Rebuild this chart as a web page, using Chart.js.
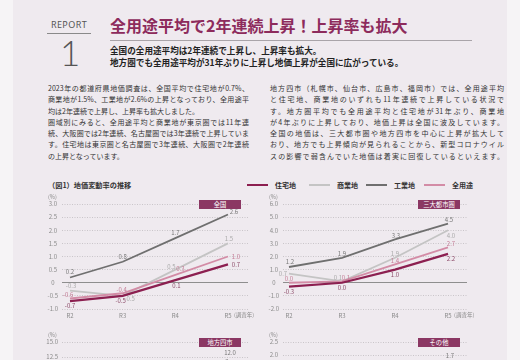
<!DOCTYPE html>
<html lang="ja">
<head>
<meta charset="utf-8">
<script src="https://cdn.jsdelivr.net/npm/chart.js@4.4.0/dist/chart.umd.min.js"></script>
<style>
  html, body { margin: 0; padding: 0; overflow: hidden; background: #f6f4f6; }
  #page { position: relative; width: 520px; height: 360px; overflow: hidden;
          font-family: "Noto Sans CJK JP", "Noto Sans", sans-serif; color: #333; }
  #panel { position: absolute; left: 13px; top: 0; width: 494px; height: 360px; background: #efeaef; }
  .abs { position: absolute; white-space: nowrap; }
  #report { left: 47px; top: 19px; width: 44px; font-family: "Noto Sans", sans-serif; font-size: 9px;
            letter-spacing: 0.4px; color: #555; text-align: center; line-height: 12px; }
  #reportRule { left: 47px; top: 33px; width: 44px; height: 0; border-top: 1px solid #8a8a8a; }
  #num { left: 60px; top: 32px; font-family: Lato, sans-serif; font-weight: 300; font-size: 35px;
         line-height: 40px; color: #555; }
  #title { left: 110px; top: 15px; font-size: 16px; font-weight: bold; color: #8d2b5c; line-height: 20px; }
  #titleRule { left: 110px; top: 40px; width: 362px; height: 0; border-top: 1px solid #a9a4a9; }
  #lead { left: 110px; top: 44px; font-size: 8.6px; font-weight: bold; color: #222; line-height: 12px; }
  .col { position: absolute; top: 83px; font-size: 7px; line-height: 11.3px; color: #333; }
  .col div { white-space: nowrap; }
  .col div.j { text-align: justify; text-align-last: justify; white-space: normal; }
  #colL { left: 48px; width: 201px; }
  #colR { left: 270px; width: 234px; }
  #figTitle { left: 48px; top: 180px; font-size: 7.2px; font-weight: bold; color: #333; line-height: 10px; }
  .legLine { position: absolute; top: 184px; height: 2px; }
  .legText { position: absolute; top: 180px; font-size: 7px; font-weight: bold; color: #333; line-height: 10px; }
  .pct { position: absolute; font-size: 5.5px; color: #888; line-height: 6px; }
  .badge { position: absolute; height: 9px; width: 42px; background: #8b3763; color: #fff;
           font-size: 6.3px; line-height: 9px; text-align: center; }
  canvas { position: absolute; }
</style>
</head>
<body>
<div id="page">
  <div id="panel"></div>
  <div class="abs" id="report">REPORT</div>
  <div class="abs" id="reportRule"></div>
  <div class="abs" id="num">1</div>
  <div class="abs" id="title">全用途平均で2年連続上昇！上昇率も拡大</div>
  <div class="abs" id="titleRule"></div>
  <div class="abs" id="lead">全国の全用途平均は2年連続で上昇し、上昇率も拡大。<br>地方圏でも全用途平均が31年ぶりに上昇し地価上昇が全国に広がっている。</div>

  <div class="col" id="colL">
    <div class="j">2023年の都道府県地価調査は、全国平均で住宅地が0.7%、</div>
    <div class="j">商業地が1.5%、工業地が2.6%の上昇となっており、全用途平</div>
    <div>均は2年連続で上昇し、上昇率も拡大しました。</div>
    <div class="j">圏域別にみると、全用途平均と商業地が東京圏では11年連</div>
    <div class="j">続、大阪圏では2年連続、名古屋圏では3年連続で上昇していま</div>
    <div class="j">す。住宅地は東京圏と名古屋圏で3年連続、大阪圏で2年連続</div>
    <div>の上昇となっています。</div>
  </div>
  <div class="col" id="colR">
    <div class="j">地方四市（札幌市、仙台市、広島市、福岡市）では、全用途平均</div>
    <div class="j">と住宅地、商業地のいずれも11年連続で上昇している状況で</div>
    <div class="j">す。地方圏平均でも全用途平均と住宅地が31年ぶり、商業地</div>
    <div class="j">が4年ぶりに上昇しており、地価上昇は全国に波及しています。</div>
    <div class="j">全国の地価は、三大都市圏や地方四市を中心に上昇が拡大して</div>
    <div class="j">おり、地方でも上昇傾向が見られることから、新型コロナウイル</div>
    <div class="j">スの影響で弱含んでいた地価は着実に回復しているといえます。</div>
  </div>

  <div class="abs" id="figTitle">（図1）地価変動率の推移</div>
  <div id="legend"></div>

  <canvas id="c1" width="222" height="125" style="left:40px;top:194px"></canvas>
  <canvas id="c2" width="222" height="125" style="left:261px;top:194px"></canvas>
  <canvas id="c3" width="222" height="125" style="left:40px;top:332px"></canvas>
  <canvas id="c4" width="222" height="125" style="left:261px;top:332px"></canvas>

  <div class="pct" style="left:48px;top:194px">(%)</div>
  <div class="pct" style="left:269px;top:194px">(%)</div>
  <div class="pct" style="left:48px;top:332px">(%)</div>
  <div class="pct" style="left:269px;top:332px">(%)</div>

  <div class="badge" style="left:199px;top:199.5px">全国</div>
  <div class="badge" style="left:418px;top:199.5px">三大都市圏</div>
  <div class="badge" style="left:199px;top:337.5px">地方四市</div>
  <div class="badge" style="left:418px;top:337.5px">その他</div>
</div>

<script>
// categories
const years = ['R2', 'R3', 'R4', 'R5'];
const seriesNames = ['住宅地', '全用途', '商業地', '工業地'];

// 全国
const zenkokuJutaku = [-0.7, -0.5, 0.1, 0.7];
const zenkokuZenyoto = [-0.6, -0.4, 0.3, 1.0];
const zenkokuShogyo = [-0.3, -0.5, 0.5, 1.5];
const zenkokuKogyo = [0.2, 0.8, 1.7, 2.6];

// 三大都市圏
const sandaiJutaku = [-0.3, 0.0, 1.0, 2.2];
const sandaiZenyoto = [0.0, 0.1, 1.4, 2.7];
const sandaiShogyo = [0.7, 0.1, 1.9, 4.0];
const sandaiKogyo = [1.2, 1.9, 3.3, 4.5];

// 地方四市
const yonshiJutaku = [3.6, 4.2, 6.6, 7.6];
const yonshiZenyoto = [4.1, 4.1, 6.7, 8.1];
const yonshiShogyo = [6.1, 3.6, 6.9, 9.0];
const yonshiKogyo = [5.5, 7.0, 9.7, 12.0];

// その他
const sonotaJutaku = [-0.9, -0.7, -0.4, -0.2];
const sonotaZenyoto = [-0.9, -0.7, -0.4, -0.2];
const sonotaShogyo = [-0.8, -0.8, -0.5, -0.3];
const sonotaKogyo = [0.0, 0.3, 0.9, 1.7];

// y tick labels
const zenkokuTicks = [3.0, 2.5, 2.0, 1.5, 1.0, 0.5, 0, -0.5, -1.0];
const sandaiTicks = [6.0, 5.0, 4.0, 3.0, 2.0, 1.0, 0, -1.0, -2.0];
const yonshiTicks = [15.0, 12.5, 10.0, 7.5, 5.0, 2.5, 0, -2.5];
const sonotaTicks = [2.5, 2.0, 1.5, 1.0, 0.5, 0, -0.5, -1.0, -1.5];

// styles
const seriesColors = ['#8c1f50', '#d38ca6', '#c4c4c4', '#6f6f6f'];
const labelColors = ['#8c4a68', '#c47c96', '#a9a9a9', '#777777'];
const seriesWidths = [2.2, 1.8, 1.8, 1.8];
const legendOrder = [0, 2, 3, 1];
const legendX = [247, 309, 366, 424];

// value label offsets [dx, dy] per series, per point
const zenkokuOffsets = [
  [[0, 5], [-2, 5], [1, 6], [8, 0]],
  [[-2, -4], [-1, -4], [5, -6], [8, 0]],
  [[1, -5], [7, 3], [-4, -3], [1, -5]],
  [[0, -6], [0, -5], [0, -5], [6, -3]]
];
const sandaiOffsets = [
  [[0, 5], [0, 5], [0, 5], [3, 5]],
  [[0, -4], [4, -4], [0, -4], [3, -4]],
  [[-6, 0], [-4, -4], [0, -4], [3, 5]],
  [[1, -5], [0, -4], [1, -4], [1, -4]]
];
const defaultOffsets = [
  [[0, 5], [0, 5], [0, 5], [3, 5]],
  [[0, -5], [0, -5], [0, -5], [3, -5]],
  [[0, -5], [0, -5], [0, -5], [3, -5]],
  [[0, -6], [0, -6], [0, -6], [2, -7]]
];

Chart.defaults.font.family = '"Noto Sans CJK JP", "Noto Sans", sans-serif';

function fmt(v) {
  return v === 0 ? '0' : v.toFixed(1);
}

// draws the number next to each point and the (調査年) note
const valueLabels = {
  id: 'valueLabels',
  afterDatasetsDraw(chart, args, opts) {
    const ctx = chart.ctx;
    ctx.save();
    ctx.font = '6px "Noto Sans CJK JP"';
    ctx.textAlign = 'center';
    ctx.textBaseline = 'middle';
    chart.data.datasets.forEach((ds, di) => {
      const meta = chart.getDatasetMeta(di);
      meta.data.forEach((pt, i) => {
        const off = opts.offsets[di][i];
        ctx.fillStyle = labelColors[di];
        ctx.fillText(ds.data[i].y.toFixed(1), pt.x + off[0], pt.y + off[1]);
      });
    });
    const xs = chart.scales.x;
    ctx.fillStyle = '#8a8a8a';
    ctx.textAlign = 'left';
    ctx.font = '5.5px "Noto Sans CJK JP"';
    ctx.fillText('(調査年)', xs.getPixelForValue(years.length - 1) + 6, xs.top + 6);
    ctx.restore();
  }
};

function makeChart(id, seriesData, ticks, offsets, xMin, xMax, padRight) {
  const datasets = seriesData.map((arr, i) => ({
    label: seriesNames[i],
    data: arr.map((v, j) => ({ x: j, y: v })),
    borderColor: seriesColors[i],
    borderWidth: seriesWidths[i],
    pointRadius: 0,
    tension: 0,
    fill: false
  }));

  return new Chart(document.getElementById(id), {
    type: 'line',
    data: { datasets },
    options: {
      responsive: false,
      devicePixelRatio: 1,
      animation: false,
      layout: { padding: { top: 10, right: padRight, left: 0, bottom: 0 } },
      plugins: {
        legend: { display: false },
        tooltip: { enabled: false },
        valueLabels: { offsets }
      },
      scales: {
        x: {
          type: 'linear',
          min: xMin,
          max: xMax,
          afterBuildTicks: (s) => { s.ticks = years.map((_, i) => ({ value: i })); },
          afterFit: (s) => { s.height = 10; },
          grid: { display: false, drawTicks: false },
          border: { display: false },
          ticks: {
            padding: 3,
            autoSkip: false,
            maxRotation: 0,
            color: '#8a8a8a',
            font: { size: 6 },
            callback: (v) => years[v]
          }
        },
        y: {
          min: ticks[ticks.length - 1],
          max: ticks[0],
          afterBuildTicks: (s) => { s.ticks = ticks.map(v => ({ value: v })); },
          afterFit: (s) => { s.width = 22; },
          grid: {
            drawTicks: false,
            lineWidth: 1,
            color: (c) => c.tick && c.tick.value === 0 ? '#8e8e8e' : '#c9c5c9'
          },
          border: {
            display: false,
            dash: (c) => c.tick && c.tick.value === 0 ? [] : [1, 1.5]
          },
          ticks: {
            padding: 4,
            crossAlign: 'center',
            color: '#8a8a8a',
            font: { size: 6 },
            callback: (v) => fmt(v)
          }
        }
      }
    },
    plugins: [valueLabels]
  });
}

makeChart('c1', [zenkokuJutaku, zenkokuZenyoto, zenkokuShogyo, zenkokuKogyo],
  zenkokuTicks, zenkokuOffsets, -0.152, 3.38, 14);
makeChart('c2', [sandaiJutaku, sandaiZenyoto, sandaiShogyo, sandaiKogyo],
  sandaiTicks, sandaiOffsets, -0.113, 3.358, 16);
makeChart('c3', [yonshiJutaku, yonshiZenyoto, yonshiShogyo, yonshiKogyo],
  yonshiTicks, defaultOffsets, -0.152, 3.38, 14);
makeChart('c4', [sonotaJutaku, sonotaZenyoto, sonotaShogyo, sonotaKogyo],
  sonotaTicks, defaultOffsets, -0.113, 3.358, 16);

// legend shared by the four charts
const legend = document.getElementById('legend');
legendOrder.forEach((si, k) => {
  const line = document.createElement('div');
  line.className = 'legLine';
  line.style.left = legendX[k] + 'px';
  line.style.width = '21px';
  line.style.background = seriesColors[si];
  legend.appendChild(line);

  const txt = document.createElement('div');
  txt.className = 'legText';
  txt.style.left = (legendX[k] + 28) + 'px';
  txt.textContent = seriesNames[si];
  legend.appendChild(txt);
});
</script>
</body>
</html>
